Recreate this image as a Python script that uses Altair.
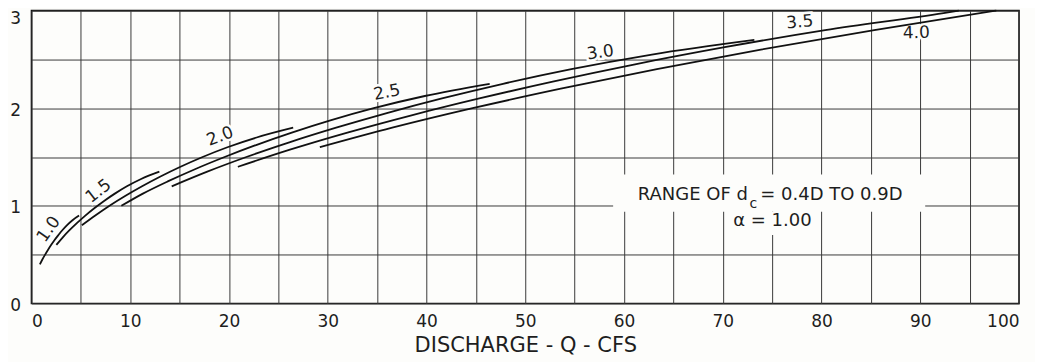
import altair as alt
import pandas as pd

# ---- curve data: discharge Q (cfs) vs critical depth dc (ft), one curve per pipe diameter D (ft)
d10_q = [0.85, 1.10, 1.38, 1.68, 2.00, 2.34, 2.72, 3.12, 3.58, 4.12, 4.82]
d10_dc = [0.40, 0.45, 0.50, 0.55, 0.60, 0.65, 0.70, 0.75, 0.80, 0.85, 0.90]

d15_q = [2.52, 3.15, 3.85, 4.62, 5.45, 6.36, 7.35, 8.44, 9.66, 11.10, 12.95]
d15_dc = [0.60, 0.675, 0.75, 0.825, 0.90, 0.975, 1.05, 1.125, 1.20, 1.275, 1.35]

d20_q = [5.10, 6.46, 7.90, 9.48, 11.20, 13.06, 15.09, 17.33, 19.84, 22.80, 26.50]
d20_dc = [0.80, 0.90, 1.00, 1.10, 1.20, 1.30, 1.40, 1.50, 1.60, 1.70, 1.80]

d25_q = [9.10, 11.28, 13.80, 16.55, 19.56, 22.81, 26.36, 30.27, 34.66, 39.83, 46.40]
d25_dc = [1.00, 1.125, 1.25, 1.375, 1.50, 1.625, 1.75, 1.875, 2.00, 2.125, 2.25]

d30_q = [14.20, 17.80, 21.76, 26.11, 30.85, 35.98, 41.57, 47.75, 54.67, 62.82, 73.20]
d30_dc = [1.20, 1.35, 1.50, 1.65, 1.80, 1.95, 2.10, 2.25, 2.40, 2.55, 2.70]

d35_q = [20.90, 26.17, 31.99, 38.39, 45.35, 52.90, 61.12, 70.20, 80.37, 92.36, 93.90]
d35_dc = [1.40, 1.575, 1.75, 1.925, 2.10, 2.275, 2.45, 2.625, 2.80, 2.975, 3.00]

d40_q = [29.20, 36.53, 44.67, 53.60, 63.33, 73.86, 85.34, 97.70]
d40_dc = [1.60, 1.80, 2.00, 2.20, 2.40, 2.60, 2.80, 3.00]

diameters = ["1.0", "1.5", "2.0", "2.5", "3.0", "3.5", "4.0"]
curve_q = [d10_q, d15_q, d20_q, d25_q, d30_q, d35_q, d40_q]
curve_dc = [d10_dc, d15_dc, d20_dc, d25_dc, d30_dc, d35_dc, d40_dc]

# ---- curve labels
label_q = [1.75, 6.8, 19.1, 36.0, 57.6, 77.8, 89.6]
label_dc = [0.76, 1.15, 1.71, 2.16, 2.57, 2.88, 2.77]
label_angle = [305, 322, 339, 349, 352, 355, 358]

# ---- axis ticks
x_ticks = list(range(0, 101, 5))
y_ticks = [0, 0.5, 1, 1.5, 2, 2.5, 3]

# ---- annotation
note_texts = ["RANGE OF d", "c", "= 0.4D TO 0.9D", "α = 1.00"]
note_q = [72.55, 72.70, 73.80, 75.03]
note_dc = [1.115, 1.02, 1.115, 0.844]
box_q0 = [58.9, 71.2]
box_q1 = [90.5, 78.8]
box_dc0 = [0.94, 0.70]
box_dc1 = [1.32, 0.94]

BG = "#fdfdfb"
FONT = "DejaVu Sans"
INK = "#1e1e1e"

rows = []
for d, qs, ds in zip(diameters, curve_q, curve_dc):
    for i, (q, dc) in enumerate(zip(qs, ds)):
        rows.append({"D": d, "Q": q, "dc": dc, "order": i})
curves = pd.DataFrame(rows)

labels = pd.DataFrame({"text": diameters, "Q": label_q, "dc": label_dc, "angle": label_angle})
boxes = pd.DataFrame({"q0": box_q0, "q1": box_q1, "d0": box_dc0, "d1": box_dc1})
notes = pd.DataFrame({"text": note_texts, "Q": note_q, "dc": note_dc})

xscale = alt.Scale(domain=[0, 100], nice=False, zero=False)
yscale = alt.Scale(domain=[0, 3], nice=False, zero=False)

x_axis = alt.Axis(
    values=x_ticks, grid=True, ticks=False, domain=False,
    labelExpr="datum.value % 10 == 0 ? datum.label : ''",
    labelFontSize=17, labelPadding=10, labelFont=FONT, labelColor=INK,
    title="DISCHARGE - Q - CFS", titleFont=FONT, titleFontSize=21,
    titleFontWeight="normal", titleColor=INK, titlePadding=5,
)
y_axis = alt.Axis(
    values=y_ticks, grid=True, ticks=False, domain=False,
    labelExpr="datum.value % 1 == 0 ? format(datum.value, 'd') : ''",
    labelFontSize=17, labelPadding=11,
    labelOffset={"condition": {"test": "datum.value >= 3", "value": 8}, "value": 2},
    labelFont=FONT, labelColor=INK,
    title=None,
)

base_grid = alt.Chart(curves).mark_line(opacity=0).encode(
    x=alt.X("Q:Q", scale=xscale, axis=x_axis),
    y=alt.Y("dc:Q", scale=yscale, axis=y_axis),
    detail="D:N",
)

box_layer = alt.Chart(boxes).mark_rect(fill=BG).encode(
    x=alt.X("q0:Q", scale=xscale), x2="q1:Q",
    y=alt.Y("d0:Q", scale=yscale), y2="d1:Q",
)

halo = alt.Chart(labels).mark_text(
    font=FONT, fontSize=17, color=BG, stroke=BG, strokeWidth=5,
).encode(
    x=alt.X("Q:Q", scale=xscale), y=alt.Y("dc:Q", scale=yscale),
    text="text:N", angle=alt.Angle("angle:Q", scale=None),
)

lines = alt.Chart(curves).mark_line(color="#111", strokeWidth=1.8, interpolate="monotone").encode(
    x=alt.X("Q:Q", scale=xscale), y=alt.Y("dc:Q", scale=yscale),
    detail="D:N", order="order:Q",
)

label_text = alt.Chart(labels).mark_text(font=FONT, fontSize=17, color=INK).encode(
    x=alt.X("Q:Q", scale=xscale), y=alt.Y("dc:Q", scale=yscale),
    text="text:N", angle=alt.Angle("angle:Q", scale=None),
)


def note(i, align, size):
    return alt.Chart(notes.iloc[[i]]).mark_text(
        font=FONT, fontSize=size, color=INK, align=align
    ).encode(x=alt.X("Q:Q", scale=xscale), y=alt.Y("dc:Q", scale=yscale), text="text:N")


n1 = note(0, "right", 18)
n2 = note(1, "left", 14)
n3 = note(2, "left", 18)
n4 = note(3, "center", 18)

chart = alt.layer(base_grid, box_layer, halo, lines, label_text, n1, n2, n3, n4).properties(
    width=988, height=293,
    autosize=alt.AutoSizeParams(type="none"),
    padding={"left": 23.5, "top": 2.5, "right": 16, "bottom": 58},
    background=BG,
).configure_view(
    stroke="#111", strokeWidth=1.6,
).configure_axis(
    gridColor="#3a3a3a", gridWidth=1, gridOpacity=1,
)

chart.save("out.html", embed_options={"renderer": "svg", "actions": False})
